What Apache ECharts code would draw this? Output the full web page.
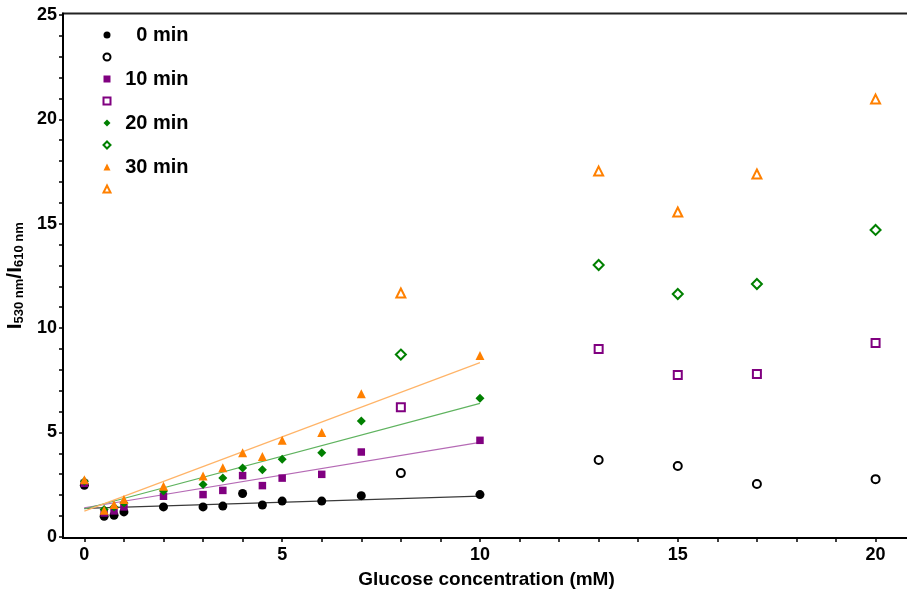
<!DOCTYPE html>
<html>
<head>
<meta charset="utf-8">
<script src="https://cdn.jsdelivr.net/npm/echarts@6.0.0/dist/echarts.min.js"></script>
<style>
  html, body { margin: 0; padding: 0; background: #fff; }
  #glucoseChart { width: 907px; height: 595px; }
</style>
</head>
<body>
<div id="glucoseChart"></div>
<script>
// points used for the linear fits
const xFit = [0, 0.5, 0.75, 1, 2, 3, 3.5, 4, 4.5, 5, 6, 7, 10]
const fit0 = [2.47, 0.98, 1.03, 1.19, 1.43, 1.43, 1.47, 2.07, 1.52, 1.71, 1.71, 1.97, 2.02]
const fit10 = [2.56, 1.14, 1.24, 1.43, 1.94, 2.02, 2.22, 2.93, 2.45, 2.81, 2.99, 4.06, 4.62]
const fit20 = [2.66, 1.31, 1.43, 1.62, 2.19, 2.5, 2.81, 3.29, 3.21, 3.71, 4.03, 5.54, 6.64]
const fit30 = [2.73, 1.27, 1.55, 1.78, 2.42, 2.91, 3.31, 4.03, 3.85, 4.62, 4.99, 6.85, 8.68]

// points outside the linear range (open markers)
const xOpen = [8, 13, 15, 17, 20]
const open0 = [3.05, 3.68, 3.39, 2.53, 2.76]
const open10 = [6.21, 8.99, 7.75, 7.8, 9.28]
const open20 = [8.73, 13.02, 11.63, 12.11, 14.7]
const open30 = [11.68, 17.52, 15.56, 17.38, 20.97]

// fitted lines, value at x = 0 and at x = 10
const lineX = [0, 10]
const line0 = [1.36, 1.95]
const line10 = [1.39, 4.52]
const line20 = [1.33, 6.39]
const line30 = [1.23, 8.34]

const legendNames = ['0 min', '10 min', '20 min', '30 min']
const xTickLabels = [0, 5, 10, 15, 20]
const xTicks = [0, 1, 2, 3, 4, 5, 6, 7, 8, 9, 10, 11, 12, 13, 14, 15, 16, 17, 18, 19, 20]
const yTickLabels = [0, 5, 10, 15, 20, 25]
const yTicks = [0, 1, 2, 3, 4, 5, 6, 7, 8, 9, 10, 11, 12, 13, 14, 15, 16, 17, 18, 19, 20, 21, 22, 23, 24, 25]

const colors = ['#000000', '#800080', '#008000', '#ff8000']
const lineColors = ['#3a3a3a', '#b56ab5', '#5fb35f', '#ffb468']
const fullSymbols = ['circle', 'rect', 'diamond', 'triangle']
const openSymbols = ['emptyCircle', 'emptyRect', 'emptyDiamond', 'emptyTriangle']
const fullSizes = [9, 7.5, 9, 9]
const openSizes = [8, 8, 10, 9]

const zip = (xs, ys) => xs.map((x, i) => [x, ys[i]])

const fitSets = [fit0, fit10, fit20, fit30]
const openSets = [open0, open10, open20, open30]
const lineSets = [line0, line10, line20, line30]

const tickFont = 'Liberation Sans'

let series = []
let legendData = []
for (let i = 0; i < 4; i++) {
  series.push({
    name: legendNames[i],
    type: 'scatter',
    data: zip(xFit, fitSets[i]),
    symbol: fullSymbols[i],
    symbolSize: fullSizes[i],
    itemStyle: { color: colors[i], opacity: 1 },
    z: 3 + i,
  })
  series.push({
    name: legendNames[i] + ' open',
    type: 'scatter',
    data: zip(xOpen, openSets[i]),
    symbol: openSymbols[i],
    symbolSize: openSizes[i],
    itemStyle: { color: colors[i], borderColor: colors[i], borderWidth: 1.6, opacity: 1 },
    z: 3 + i,
  })
  series.push({
    name: legendNames[i] + ' fit',
    type: 'line',
    data: zip(lineX, lineSets[i]),
    showSymbol: false,
    silent: true,
    lineStyle: { color: lineColors[i], width: 1.2 },
    z: 2,
  })
  legendData.push(legendNames[i], legendNames[i] + ' open')
}

let myChart = echarts.init(document.getElementById('glucoseChart'))
let option = {
  animation: false,
  grid: {
    left: 63,
    right: -3,
    top: 13.5,
    bottom: 57,
    outerBoundsMode: 'none',
    containLabel: false,
    show: true,
    borderColor: '#222',
    borderWidth: 2,
  },
  legend: {
    data: legendData,
    orient: 'vertical',
    left: 97.5,
    top: 20,
    itemWidth: 7,
    itemHeight: 7,
    itemGap: 2,
    formatter: function (name) {
      return name.indexOf('open') > -1 ? '{t| }' : '{t|' + name + '}'
    },
    textStyle: {
      rich: {
        t: {
          width: 73,
          height: 20,
          align: 'right',
          fontSize: 20,
          fontWeight: 'bold',
          fontFamily: 'Liberation Sans',
          color: '#000',
        },
      },
    },
  },
  xAxis: {
    type: 'value',
    min: -0.54,
    max: 20.87,
    name: 'Glucose concentration (mM)',
    nameLocation: 'middle',
    nameGap: 32,
    nameTextStyle: { fontSize: 19, fontWeight: 'bold', fontFamily: tickFont, color: '#000' },
    axisLine: { onZero: false, lineStyle: { color: '#000', width: 2 } },
    axisTick: { customValues: xTicks, length: 4, lineStyle: { color: '#000', width: 1.5 } },
    axisLabel: {
      customValues: xTickLabels,
      margin: 8,
      fontSize: 18,
      fontWeight: 'bold',
      fontFamily: tickFont,
      color: '#000',
    },
    splitLine: { show: false },
  },
  yAxis: {
    type: 'value',
    min: -0.06,
    max: 25.07,
    name: '{b|I}{s|530 nm}{b|/I}{s|610 nm}',
    nameLocation: 'middle',
    nameGap: 36,
    nameTextStyle: {
      rich: {
        b: { fontSize: 21, fontWeight: 'bold', fontFamily: tickFont, color: '#000', lineHeight: 22 },
        s: { fontSize: 13, fontWeight: 'bold', fontFamily: tickFont, color: '#000', lineHeight: 12, verticalAlign: 'bottom' },
      },
    },
    axisLine: { onZero: false, lineStyle: { color: '#000', width: 2 } },
    axisTick: { customValues: yTicks, length: 4, lineStyle: { color: '#000', width: 1.5 } },
    axisLabel: {
      customValues: yTickLabels,
      margin: 6,
      fontSize: 18,
      fontWeight: 'bold',
      fontFamily: tickFont,
      color: '#000',
    },
    splitLine: { show: false },
  },
  series: series,
}

myChart.setOption(option)
</script>
</body>
</html>
